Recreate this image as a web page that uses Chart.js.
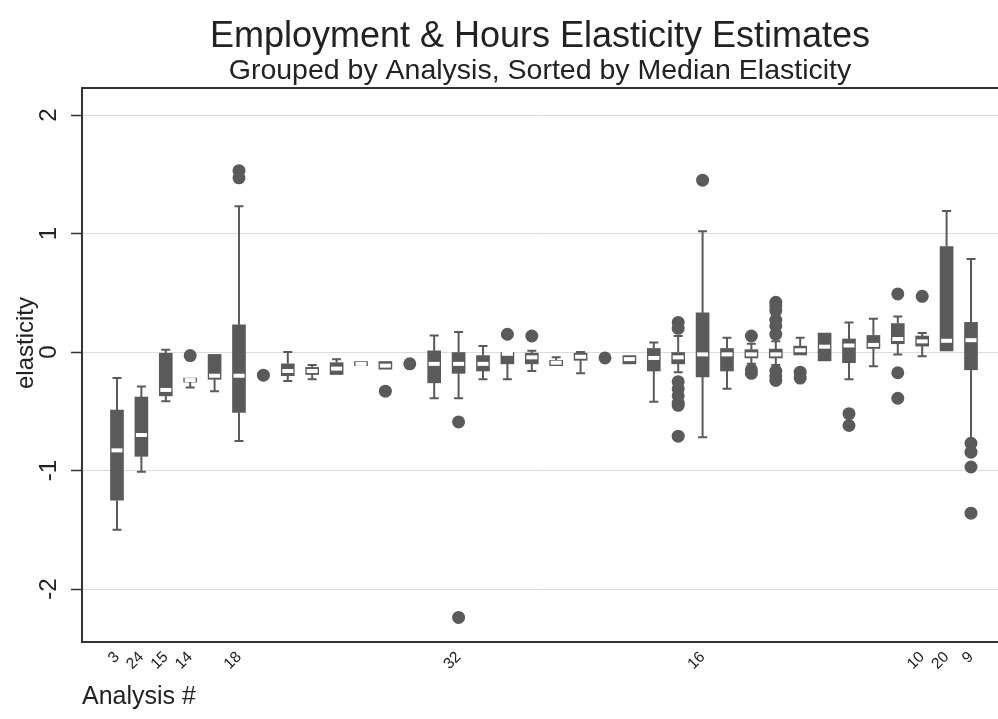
<!DOCTYPE html>
<html>
<head>
<meta charset="utf-8">
<title>Employment & Hours Elasticity Estimates</title>
<script src="https://cdn.jsdelivr.net/npm/chart.js@4.4.1/dist/chart.umd.min.js"></script>
<style>
  html, body { margin: 0; padding: 0; background: #fff; }
  canvas { display: block; }
</style>
</head>
<body>
<canvas id="elasticityChart" width="998" height="719"></canvas>
<script>
// one entry per analysis, sorted by median elasticity (blank = no label on the axis)
const analysisLabels = ["3", "24", "15", "14", "", "18", "", "", "", "", "", "", "", "", "32", "", "", "", "", "", "", "", "", "", "16", "", "", "", "", "", "", "", "", "10", "20", "9"];
const q1 =          [-1.25, -0.88, -0.37, -0.254, -0.23, -0.51, null, -0.20, -0.19, -0.19, -0.115, -0.145, null, -0.26, -0.18, -0.16, -0.10, -0.10, -0.115, -0.07, null, -0.10, -0.16, -0.10, -0.21, -0.16, -0.05, -0.05, -0.025, -0.075, -0.09, 0.03, 0.07, 0.05, 0.01, -0.15];
const medians =     [-0.83, -0.70, -0.32, -0.237, -0.20, -0.20, null, -0.16, -0.16, -0.14, -0.10, -0.115, null, -0.10, -0.10, -0.10, -0.015, -0.045, -0.09, -0.04, null, -0.06, -0.05, -0.045, -0.02, -0.02, -0.02, -0.02, 0.015, 0.045, 0.055, 0.06, 0.11, 0.09, 0.095, 0.10];
const q3 =          [-0.49, -0.38, -0.01, -0.22, -0.02, 0.23, null, -0.10, -0.13, -0.09, -0.08, -0.08, null, 0.01, 0.00, -0.03, 0.00, -0.01, -0.07, -0.01, null, -0.03, 0.03, 0.00, 0.33, 0.03, 0.02, 0.025, 0.05, 0.16, 0.11, 0.14, 0.24, 0.135, 0.89, 0.25];
const whiskerLow =  [-1.50, -1.01, -0.415, -0.30, -0.33, -0.75, null, -0.245, -0.23, -0.19, -0.115, -0.145, null, -0.39, -0.39, -0.23, -0.23, -0.16, -0.115, -0.18, null, -0.10, -0.42, -0.17, -0.72, -0.31, -0.10, -0.11, -0.025, -0.075, -0.23, -0.12, -0.02, -0.035, 0.01, -0.745];
const whiskerHigh = [-0.22, -0.29, 0.02, -0.22, -0.02, 1.23, null, 0.00, -0.11, -0.06, -0.08, -0.08, null, 0.14, 0.17, 0.05, 0.00, 0.01, -0.045, 0.00, null, -0.03, 0.08, 0.135, 1.02, 0.12, 0.07, 0.09, 0.12, 0.16, 0.25, 0.28, 0.30, 0.16, 1.19, 0.785];

// outside values: slot number (1 = leftmost analysis) and elasticity
const outlierSlot =  [4, 6, 6, 7, 12, 13, 15, 15, 17, 18, 21, 24, 24, 24, 24, 24, 24, 24, 24, 25, 27, 27, 27, 28, 28, 28, 28, 28, 28, 28, 28, 28, 29, 29, 31, 31, 33, 33, 33, 34, 36, 36, 36, 36];
const outlierValue = [-0.03, 1.53, 1.47, -0.195, -0.33, -0.10, -0.59, -2.24, 0.15, 0.135, -0.05, 0.25, 0.20, -0.25, -0.31, -0.37, -0.43, -0.45, -0.71, 1.45, 0.135, -0.15, -0.18, 0.42, 0.39, 0.35, 0.27, 0.22, 0.15, -0.16, -0.20, -0.24, -0.17, -0.22, -0.52, -0.62, 0.49, -0.175, -0.39, 0.47, -0.77, -0.845, -0.97, -1.36];

const yTickValues = [-2, -1, 0, 1, 2];

const slots = analysisLabels.map((_, i) => i + 1);
const labelledSlots = slots.filter((s) => analysisLabels[s - 1] !== "");

const boxColor = "#5a5a5a";
const textColor = "#222";
const fontFamily = "'Liberation Sans', Arial, Helvetica, sans-serif";

const boxData = slots
  .filter((s) => q1[s - 1] !== null)
  .map((s) => ({ x: s, y: [q1[s - 1], q3[s - 1]] }));
const outlierData = outlierSlot.map((s, i) => ({ x: s, y: outlierValue[i] }));

// whiskers, medians, frame and y labels (Stata look)
const boxExtras = {
  id: "boxExtras",
  beforeDatasetsDraw(chart) {
    const { ctx } = chart;
    const x = chart.scales.x;
    const y = chart.scales.y;
    ctx.save();
    ctx.strokeStyle = boxColor;
    ctx.lineWidth = 2;
    slots.forEach((s, i) => {
      if (q1[i] === null) return;
      const px = x.getPixelForValue(s);
      [[q3[i], whiskerHigh[i]], [q1[i], whiskerLow[i]]].forEach(([from, to]) => {
        if (from === to) return;
        const y0 = y.getPixelForValue(from);
        const y1 = y.getPixelForValue(to);
        ctx.beginPath();
        ctx.moveTo(px, y0);
        ctx.lineTo(px, y1);
        ctx.moveTo(px - 4.5, y1);
        ctx.lineTo(px + 4.5, y1);
        ctx.stroke();
      });
    });
    ctx.restore();
  },
  afterDatasetDraw(chart, args) {
    if (args.index !== 1) return;
    const { ctx } = chart;
    const x = chart.scales.x;
    const y = chart.scales.y;
    ctx.save();
    ctx.strokeStyle = "#ffffff";
    ctx.lineWidth = 4;
    slots.forEach((s, i) => {
      if (medians[i] === null) return;
      const px = x.getPixelForValue(s);
      const py = y.getPixelForValue(medians[i]);
      ctx.beginPath();
      ctx.moveTo(px - 5.5, py);
      ctx.lineTo(px + 5.5, py);
      ctx.stroke();
    });
    ctx.restore();
  },
  afterDraw(chart) {
    const { ctx, chartArea } = chart;
    const y = chart.scales.y;
    ctx.save();
    // top frame line
    ctx.strokeStyle = "#333";
    ctx.lineWidth = 2;
    ctx.beginPath();
    ctx.moveTo(chartArea.left, chartArea.top);
    ctx.lineTo(chartArea.right, chartArea.top);
    ctx.stroke();
    // vertical y tick labels, centred on the ticks
    ctx.fillStyle = textColor;
    ctx.font = "24px " + fontFamily;
    ctx.textAlign = "center";
    ctx.textBaseline = "middle";
    yTickValues.forEach((v) => {
      ctx.save();
      ctx.translate(49, y.getPixelForValue(v));
      ctx.rotate(-Math.PI / 2);
      ctx.fillText(String(v), 0, 0);
      ctx.restore();
    });
    // y axis title
    ctx.save();
    ctx.translate(26, (chartArea.top + chartArea.bottom) / 2 - 22);
    ctx.rotate(-Math.PI / 2);
    ctx.fillText("elasticity", 0, 0);
    ctx.restore();
    ctx.restore();
  },
};

new Chart(document.getElementById("elasticityChart"), {
  type: "bar",
  data: {
    datasets: [
      {
        type: "scatter",
        data: outlierData,
        backgroundColor: boxColor,
        borderWidth: 0,
        pointRadius: 6.5,
      },
      {
        type: "bar",
        data: boxData,
        backgroundColor: boxColor,
        borderWidth: 0,
        barThickness: 13,
        grouped: false,
      },
    ],
  },
  options: {
    responsive: false,
    animation: false,
    events: [],
    layout: { padding: 0, autoPadding: false },
    plugins: {
      legend: { display: false },
      tooltip: { enabled: false },
      title: {
        display: true,
        text: "Employment & Hours Elasticity Estimates",
        fullSize: false,
        color: textColor,
        font: { family: fontFamily, size: 36, weight: "normal", lineHeight: 1 },
        padding: { top: 19, bottom: 1 },
      },
      subtitle: {
        display: true,
        text: "Grouped by Analysis, Sorted by Median Elasticity",
        fullSize: false,
        color: textColor,
        font: { family: fontFamily, size: 28.5, weight: "normal", lineHeight: 1 },
        padding: { top: 0.5, bottom: 3 },
      },
    },
    scales: {
      x: {
        type: "linear",
        offset: false,
        min: -0.434,
        max: 37.107,
        afterBuildTicks: (scale) => {
          scale.ticks = labelledSlots.map((v) => ({ value: v }));
        },
        afterFit: (scale) => {
          scale.height = 77;
          scale.paddingLeft = 0;
          scale.paddingRight = 0;
        },
        grid: { display: false, drawTicks: false },
        border: { display: true, color: "#333", width: 2 },
        ticks: {
          autoSkip: false,
          minRotation: 45,
          maxRotation: 45,
          padding: 6,
          color: textColor,
          font: { family: fontFamily, size: 15.5 },
          callback: (value) => analysisLabels[value - 1],
        },
        title: {
          display: true,
          text: "Analysis #",
          align: "start",
          color: textColor,
          font: { family: fontFamily, size: 25, lineHeight: 1.2 },
          padding: { top: 0, bottom: 7 },
        },
      },
      y: {
        min: -2.447,
        max: 2.228,
        afterBuildTicks: (scale) => {
          scale.ticks = yTickValues.map((v) => ({ value: v }));
        },
        afterFit: (scale) => {
          scale.width = 82;
        },
        grid: {
          color: "#dcdcdc",
          lineWidth: 1,
          tickLength: 11,
          tickColor: "#333",
          tickWidth: 1.5,
        },
        border: { display: true, color: "#333", width: 2 },
        ticks: { display: false },
      },
    },
  },
  plugins: [boxExtras],
});
</script>
</body>
</html>
